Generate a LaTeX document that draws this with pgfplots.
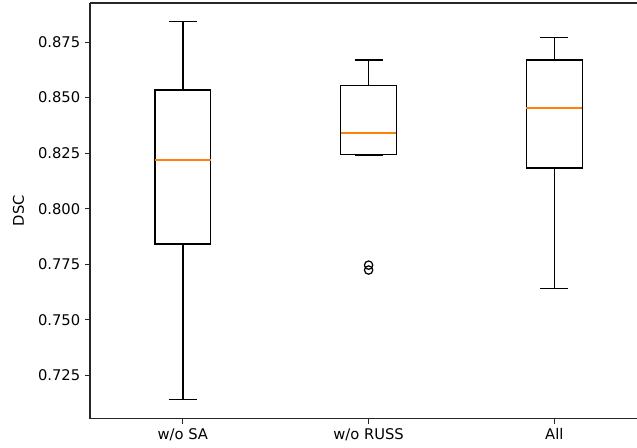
\documentclass[border=0pt]{standalone}
\usepackage{pgfplots}
\pgfplotsset{compat=1.18}
\usepgfplotslibrary{statistics}
\usepackage{fontspec}
\setmainfont{DejaVu Sans}
\definecolor{mplorange}{HTML}{FF7F0E}
\begin{document}
\begin{tikzpicture}
\path[use as bounding box] (-64.8pt,-21.1pt) rectangle (393.84pt,301.46pt);
\begin{axis}[
  at={(0,0)}, anchor=south west,
  scale only axis,
  width=393.84pt, height=299.3pt,
  xmin=0.5, xmax=3.445,
  ymin=0.7055, ymax=0.8926,
  axis x line*=box, axis y line*=left,
  axis line style={line width=0.8pt, black!85},
  xtick={1,2,3},
  xticklabels={w/o SA, w/o RUSS, All},
  ytick={0.725,0.75,0.775,0.8,0.825,0.85,0.875},
  yticklabel style={/pgf/number format/.cd, fixed, fixed zerofill, precision=3},
  /pgf/number format/assume math mode=true,
  tick label style={font=\fontsize{10.6}{12}\selectfont, black},
  ylabel={DSC},
  label style={font=\fontsize{10.6}{12}\selectfont},
  ylabel style={at={(axis description cs:0,0.5)}, anchor=south, xshift=0pt, yshift=44pt},
  tick align=outside,
  major tick length=3.5pt,
  tick style={line width=0.8pt, black!85},
  xtick pos=bottom, ytick pos=left,
  clip=false,
  boxplot/draw direction=y,
  boxplot/box extend=0.3,
  boxplot/whisker extend=0.15,
  boxplot/every median/.style={draw=mplorange, line width=1pt},
  boxplot/every box/.style={draw=black, line width=1pt},
  boxplot/every whisker/.style={draw=black, line width=1pt},
]
\addplot[black, line width=1pt, mark=o, mark size=3pt, mark options={line width=0.9pt},
  boxplot prepared={draw position=1, lower whisker=0.7140, lower quartile=0.7841,
    median=0.8219, upper quartile=0.8534, upper whisker=0.8843}]
  coordinates {};
\addplot[black, line width=1pt, mark=o, mark size=3pt, mark options={line width=0.9pt},
  boxplot prepared={draw position=2, lower whisker=0.8241, lower quartile=0.8245,
    median=0.8340, upper quartile=0.8556, upper whisker=0.8670}]
  table[row sep=\\, y index=0] {data\\ 0.7746\\ 0.7724\\};
\addplot[black, line width=1pt, mark=o, mark size=3pt, mark options={line width=0.9pt},
  boxplot prepared={draw position=3, lower whisker=0.7640, lower quartile=0.8184,
    median=0.8453, upper quartile=0.8669, upper whisker=0.8771}]
  coordinates {};
\end{axis}
\end{tikzpicture}
\end{document}
